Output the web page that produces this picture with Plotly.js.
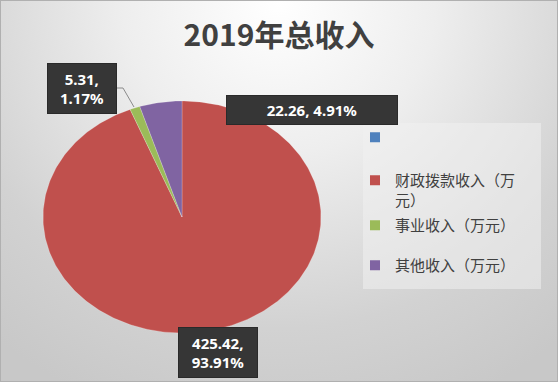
<!DOCTYPE html>
<html><head><meta charset="utf-8">
<script src="https://cdn.plot.ly/plotly-3.0.1.min.js"></script>
<style>
html,body{margin:0;padding:0;background:#fff;}
#bg{position:absolute;left:0;top:0;width:558px;height:382px;box-sizing:border-box;border:1px solid #b0b0b0;
background:radial-gradient(ellipse 80% 115% at 50% 0%, #ffffff 0%, #eeeeee 35%, #d2d2d2 75%, #c8c8c8 100%);}
#chart{position:absolute;left:0;top:0;width:558px;height:382px;}
</style></head><body>
<div id="bg"></div>
<div id="chart"></div>
<script>
const titleText = '2019年总收入';
const categories = ['', '财政拨款收入（万元）', '事业收入（万元）', '其他收入（万元）'];
const legendLabels = [' ', '财政拨款收入（万<br>元）', '事业收入（万元）', '其他收入（万元）'];
const values = [0, 425.42, 5.31, 22.26];
const percents = [0, 93.91, 1.17, 4.91];
const colors = ['#4F81BD', '#C0504D', '#9BBB59', '#8064A2'];

const W = 558, H = 382;
const cx = 182, cy = 217, rx = 139, ry = 116;
const px = x => x / W;
const py = y => 1 - y / H;

const total = values.reduce((a, b) => a + b, 0);
const traces = [];
let acc = 0;
values.forEach((v, i) => {
  if (v <= 0) return;
  const f0 = acc / total, f1 = (acc + v) / total;
  acc += v;
  const n = Math.max(3, Math.ceil((f1 - f0) * 400));
  const xs = [0], ys = [0];
  for (let k = 0; k <= n; k++) {
    const t = Math.PI / 2 - 2 * Math.PI * (f0 + (f1 - f0) * k / n);
    xs.push(Math.cos(t)); ys.push(Math.sin(t));
  }
  xs.push(0); ys.push(0);
  traces.push({type: 'scatter', mode: 'lines', x: xs, y: ys, fill: 'toself',
    fillcolor: colors[i], line: {width: 0.6, color: 'rgba(255,255,255,0.35)'},
    hoverinfo: 'text', text: categories[i], showlegend: false});
});

const legendIds = ['legend', 'legend2', 'legend3', 'legend4'];
const legendRowY = [137, 180, 225, 265];
categories.forEach((c, i) => {
  traces.push({type: 'scatter', mode: 'markers', x: [null], y: [null], name: legendLabels[i],
    legend: legendIds[i], marker: {symbol: 'square', size: 10, color: colors[i]}, showlegend: true});
});

const labelBoxes = [null,
  {cx: 218, cy: 352, w: 76, h: 47, br: true},
  {cx: 82, cy: 88, w: 66, h: 47, br: true},
  {cx: 312, cy: 110, w: 168, h: 26, br: false}];
const annotations = [];
values.forEach((v, i) => {
  const b = labelBoxes[i];
  if (!b) return;
  annotations.push({xref: 'paper', yref: 'paper', x: px(b.cx), y: py(b.cy), xanchor: 'center', yanchor: 'middle',
    showarrow: false, text: v + ',' + (b.br ? '<br>' : ' ') + percents[i].toFixed(2) + '%',
    width: b.w, height: b.h, bgcolor: '#363636', bordercolor: '#2a2a2a', borderwidth: 1,
    font: {family: 'Noto Sans, DejaVu Sans, sans-serif', size: 15, color: '#ffffff', weight: 'bold'}});
});

const xmin = -cx / rx, xmax = (W - cx) / rx;
const ymax = cy / ry, ymin = -(H - cy) / ry;

const layout = {
  width: W, height: H,
  margin: {l: 0, r: 0, t: 0, b: 0},
  paper_bgcolor: 'rgba(0,0,0,0)', plot_bgcolor: 'rgba(0,0,0,0)',
  title: {text: titleText, x: 0.5, xanchor: 'center', y: py(35), yanchor: 'middle',
    font: {family: 'Noto Sans CJK SC, sans-serif', size: 30, color: '#404040', weight: 'bold'}},
  xaxis: {range: [xmin, xmax], visible: false, fixedrange: true},
  yaxis: {range: [ymin, ymax], visible: false, fixedrange: true},
  showlegend: true,
  shapes: [
    {type: 'rect', xref: 'paper', yref: 'paper', x0: px(363), x1: px(541), y0: py(289), y1: py(123),
      fillcolor: 'rgba(240,240,240,0.55)', line: {width: 0}, layer: 'below'},
    {type: 'path', xref: 'paper', yref: 'paper',
      path: 'M ' + px(116) + ' ' + py(88) + ' L ' + px(123) + ' ' + py(88) + ' L ' + px(134) + ' ' + py(107),
      line: {color: '#8a8a8a', width: 1}}
  ],
  annotations: annotations
};
legendIds.forEach((id, i) => {
  layout[id] = {x: px(355), y: py(legendRowY[i] - 16), xanchor: 'left', yanchor: 'top',
    bgcolor: 'rgba(0,0,0,0)', valign: 'top',
    font: {family: 'Noto Sans CJK SC, sans-serif', size: 15, color: '#404040'}};
});
Plotly.newPlot('chart', traces, layout, {displayModeBar: false, staticPlot: true});
</script>
</body></html>
